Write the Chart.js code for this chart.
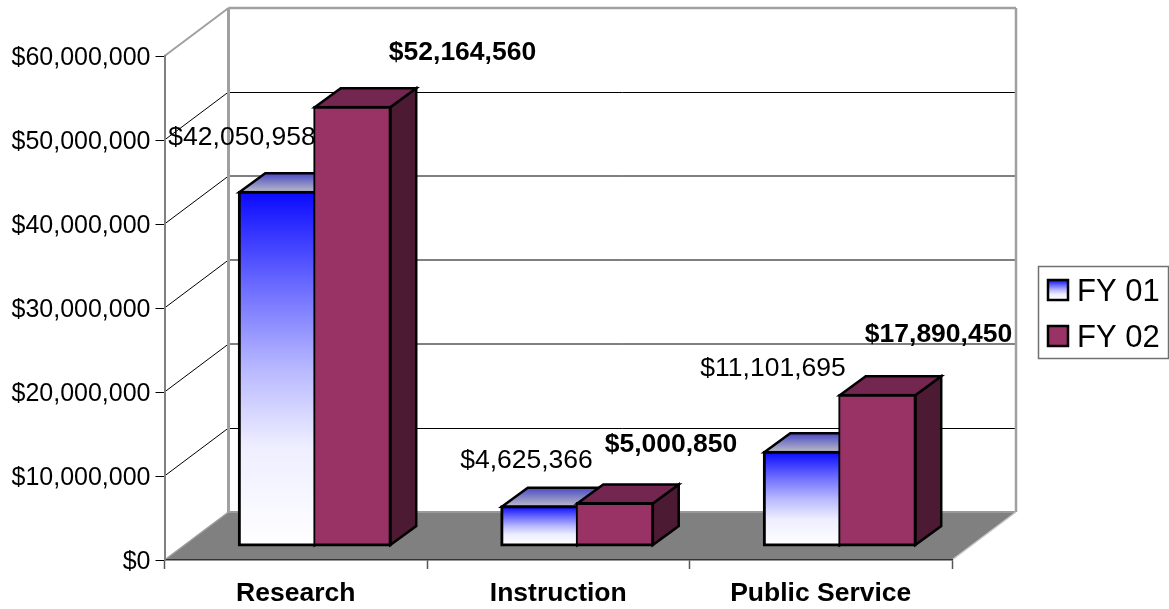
<!DOCTYPE html>
<html>
<head>
<meta charset="utf-8">
<title>Funding by category</title>
<script src="https://cdn.jsdelivr.net/npm/chart.js@4/dist/chart.umd.min.js"></script>
<style>
    html, body { margin: 0; padding: 0; background: #fff; }
    canvas { display: block; }
</style>
</head>
<body>
<canvas id="chart" width="1169" height="609"></canvas>
<script>
const categories = ['Research', 'Instruction', 'Public Service'];
const seriesNames = ['FY 01', 'FY 02'];
const fy01Values = [42050958, 4625366, 11101695];
const fy02Values = [52164560, 5000850, 17890450];
const yTickStep = 10000000;
const yMax = 60000000;

// Hand placed value labels, offset from each bar's top centre
const labelOffsets = [
    [[-35, -55], [-13, -46], [-29, -84]],
    [[110, -55], [56, -59], [61, -61]]
];

const FONT = '"Liberation Sans", Arial, sans-serif';
const WALL_DX = 64, WALL_DY = 48;   // depth of the walls and floor
const BAR_SHIFT_X = 19, BAR_SHIFT_Y = 14.5;   // bars stand in the middle of the floor
const BAR_DX = 26, BAR_DY = 19;   // depth of a bar

const money = (v) => '$' + Number(v).toLocaleString('en-US');

function poly(ctx, pts, fill, stroke, lw) {
    ctx.beginPath();
    pts.forEach((p, i) => (i ? ctx.lineTo(p[0], p[1]) : ctx.moveTo(p[0], p[1])));
    ctx.closePath();
    if (fill) {
        ctx.fillStyle = fill;
        ctx.fill();
    }
    if (stroke) {
        ctx.strokeStyle = stroke;
        ctx.lineWidth = lw;
        ctx.lineJoin = 'miter';
        ctx.stroke();
    }
}

function line(ctx, x1, y1, x2, y2, color, lw) {
    ctx.beginPath();
    ctx.moveTo(x1, y1);
    ctx.lineTo(x2, y2);
    ctx.strokeStyle = color;
    ctx.lineWidth = lw;
    ctx.stroke();
}

// blue fades to white faster than a straight two stop gradient
const fy01Gradient = (ctx, top, bottom) => {
    const g = ctx.createLinearGradient(0, top, 0, bottom);
    g.addColorStop(0, '#0a0aff');
    g.addColorStop(0.25, '#6666ff');
    g.addColorStop(0.5, '#b8b8ff');
    g.addColorStop(0.72, '#eeeeff');
    g.addColorStop(1, '#ffffff');
    return g;
};

const depthPlugin = {
    id: 'depth',
    // walls and floor go behind the axes
    beforeDraw(chart) {
        const ctx = chart.ctx;
        const y = chart.scales.y;
        const { left, right } = chart.chartArea;
        const base = y.getPixelForValue(0);
        const top = y.getPixelForValue(yMax);

        ctx.save();
        poly(ctx, [[left, base], [left + WALL_DX, base - WALL_DY], [right + WALL_DX, base - WALL_DY], [right, base]], '#808080');
        line(ctx, left + WALL_DX, base - WALL_DY, right + WALL_DX, base - WALL_DY, '#9a9a9a', 2);

        for (let v = yTickStep; v < yMax; v += yTickStep) {
            const py = y.getPixelForValue(v);
            line(ctx, left, py, left + WALL_DX, py - WALL_DY, '#000', 1);
            // the reference only has the outer two lines crisp, the rest blur over two rows
            const crisp = v === yTickStep || v === 5 * yTickStep;
            const wy = Math.round(py - WALL_DY) + (crisp ? 0.5 : 0);
            line(ctx, left + WALL_DX, wy, right + WALL_DX, wy, '#000', 1);
        }

        line(ctx, left, top, left + WALL_DX, top - WALL_DY, '#a0a0a0', 2);
        line(ctx, left + WALL_DX, top - WALL_DY, right + WALL_DX, top - WALL_DY, '#a0a0a0', 2.5);
        line(ctx, left + WALL_DX, top - WALL_DY, left + WALL_DX, base - WALL_DY, '#a0a0a0', 3);
        line(ctx, right + WALL_DX, top - WALL_DY, right + WALL_DX, base - WALL_DY, '#a0a0a0', 2.5);
        line(ctx, left, base, left + WALL_DX, base - WALL_DY, '#a0a0a0', 1.5);
        line(ctx, right, base, right + WALL_DX, base - WALL_DY, '#c8c8c8', 1.5);
        ctx.restore();
    },
    // FY 02 has to sit on top of FY 01, the library would paint them the other way round.
    // The front faces still come from the bar controller, moved back onto the floor.
    beforeDatasetsDraw(chart) {
        const ctx = chart.ctx;
        ctx.save();
        ctx.translate(BAR_SHIFT_X, -BAR_SHIFT_Y);

        [0, 1].forEach((i) => {
            const meta = chart.getDatasetMeta(i);
            meta.data.forEach((bar) => {
                const l = bar.x - bar.width / 2;
                const r = bar.x + bar.width / 2;
                const t = bar.y;
                const b = bar.base;
                let topFill = '#732650';
                if (i === 0) {
                    const g = ctx.createLinearGradient(0, t - BAR_DY, 0, t);
                    g.addColorStop(0, '#4a4ac4');
                    g.addColorStop(1, '#bcbcc8');
                    topFill = g;
                }
                const sideFill = i === 1 ? '#4d1a33' : '#10107f';
                poly(ctx, [[r, t], [r + BAR_DX, t - BAR_DY], [r + BAR_DX, b - BAR_DY], [r, b]], sideFill, '#000', 2.5);
                poly(ctx, [[l, t], [l + BAR_DX, t - BAR_DY], [r + BAR_DX, t - BAR_DY], [r, t]], topFill, '#000', 2.5);
            });
            meta.controller.draw();
        });

        ctx.restore();
        return false;
    },
    afterDraw(chart) {
        const ctx = chart.ctx;
        ctx.save();

        // value labels, FY 02 in bold
        ctx.textAlign = 'center';
        ctx.textBaseline = 'middle';
        ctx.fillStyle = '#000';
        chart.data.datasets.forEach((ds, i) => {
            ctx.font = (i === 1 ? 'bold ' : '') + '26.5px ' + FONT;
            chart.getDatasetMeta(i).data.forEach((bar, j) => {
                const off = labelOffsets[i][j];
                ctx.fillText(money(ds.data[j]), bar.x + BAR_SHIFT_X + off[0], bar.y - BAR_SHIFT_Y + off[1]);
            });
        });

        // legend box runs up to the edge of the picture
        ctx.fillStyle = '#fff';
        ctx.fillRect(1038.5, 266.5, 130, 92);
        ctx.strokeStyle = '#707070';
        ctx.lineWidth = 1.5;
        ctx.strokeRect(1038.5, 266.5, 130, 92);

        ctx.textAlign = 'left';
        ctx.textBaseline = 'alphabetic';
        ctx.font = '31px ' + FONT;
        seriesNames.forEach((name, i) => {
            const sy = 280 + i * 46;
            ctx.fillStyle = i === 0 ? fy01Gradient(ctx, sy, sy + 20) : '#993366';
            ctx.fillRect(1048, sy, 20, 20);
            ctx.strokeStyle = '#000';
            ctx.lineWidth = 2.5;
            ctx.strokeRect(1048, sy, 20, 20);
            ctx.fillStyle = '#000';
            ctx.fillText(name, 1077, sy + 20.5);
        });
        ctx.restore();
    }
};

new Chart(document.getElementById('chart'), {
    type: 'bar',
    data: {
        labels: categories,
        datasets: [
            {
                label: seriesNames[0],
                data: fy01Values,
                borderColor: '#000',
                borderSkipped: false,
                inflateAmount: 1.5,
                borderWidth: { top: 3, bottom: 3, left: 3, right: 1 },
                backgroundColor: (c) => {
                    const y = c.chart.scales.y;
                    const top = y ? y.getPixelForValue(c.raw) : NaN;
                    const bottom = y ? y.getPixelForValue(0) : NaN;
                    // options get resolved once before the scales have a size
                    if (c.type !== 'data' || !isFinite(top) || !isFinite(bottom)) return '#1010ff';
                    return fy01Gradient(c.chart.ctx, top, bottom);
                }
            },
            {
                label: seriesNames[1],
                data: fy02Values,
                borderColor: '#000',
                borderSkipped: false,
                inflateAmount: 1.5,
                borderWidth: { top: 3, bottom: 3, left: 2, right: 3 },
                backgroundColor: '#993366'
            }
        ]
    },
    options: {
        responsive: false,
        animation: false,
        categoryPercentage: 0.575,
        barPercentage: 1,
        layout: { padding: { top: 56, right: 217, bottom: 0, left: 0 } },
        plugins: {
            legend: { display: false },
            tooltip: { enabled: false }
        },
        scales: {
            x: {
                afterFit: (s) => { s.height = 49; },
                border: { color: '#333', width: 1.5 },
                grid: { drawOnChartArea: false, tickLength: 9, tickColor: '#555', tickWidth: 1.5 },
                ticks: {
                    color: '#000',
                    padding: 9,
                    font: { family: FONT, size: 26.5, weight: 'bold' },
                    maxRotation: 0
                }
            },
            y: {
                min: 0,
                max: yMax,
                afterFit: (s) => { s.width = 164.5; },
                border: { color: '#808080', width: 2 },
                grid: { drawOnChartArea: false, tickLength: 9, tickColor: '#000', tickWidth: 1 },
                ticks: {
                    color: '#000',
                    stepSize: yTickStep,
                    padding: 5,
                    labelOffset: 2,
                    font: { family: FONT, size: 25 },
                    callback: (v) => money(v)
                }
            }
        }
    },
    plugins: [depthPlugin]
});
</script>
</body>
</html>
